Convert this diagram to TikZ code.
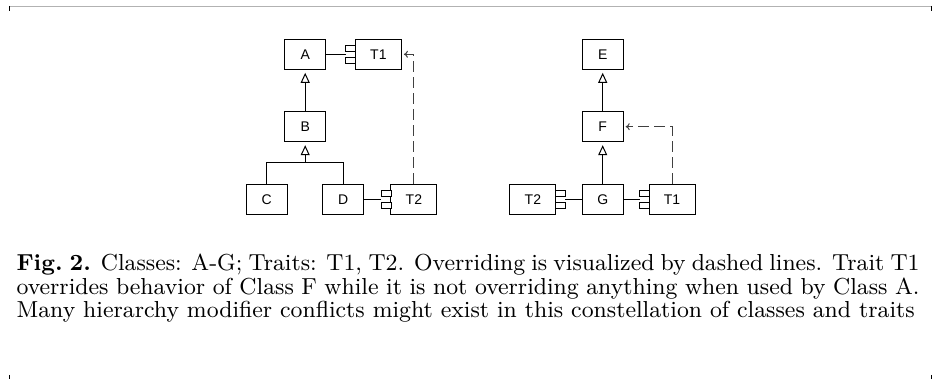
\documentclass[tikz,border=0pt]{standalone}
\usepackage{fontspec}
\newfontfamily\diagfont{Liberation Sans}
\usetikzlibrary{arrows.meta}
\begin{document}
\begin{tikzpicture}[x=1pt,y=-1pt,
  cls/.style={draw, line width=1pt, minimum width=41pt, minimum height=30pt, inner sep=0pt, font=\diagfont\fontsize{14}{14}\selectfont},
  trait/.style={cls, minimum width=46pt},
  port/.style={draw, fill=white, line width=1pt, minimum width=10pt, minimum height=5.5pt, inner sep=0pt},
  inh/.style={-{Triangle[open,length=10pt,width=9pt]}, line width=1pt, shorten >=3pt},
  ovr/.style={-{To[length=4pt,width=7pt]}, dash pattern=on 11pt off 5pt, line width=1pt, black!75, shorten >=2pt},
  conn/.style={line width=1pt}]
\useasboundingbox (0,0) rectangle (935,379);
% frame marks
\draw[gray!60, line width=1.3pt] (9.3,6.5) -- (931,6.5);
\draw[line width=0.8pt] (9.3,6) -- (9.3,11) (931,6) -- (931,11);
\draw[line width=0.8pt] (9.3,375) -- (9.3,379) (931,375) -- (931,379);
% left diagram
\node[cls] (A) at (305.2,54.3) {A};
\node[trait] (T1L) at (378.4,54.3) {T1};
\node[cls] (B) at (305.2,126.7) {B};
\node[cls] (C) at (266.7,199.3) {C};
\node[cls] (D) at (343.3,199.3) {D};
\node[trait] (T2L) at (413.9,199.3) {T2};
\coordinate (t1lj) at ([xshift=-9pt]T1L.west);
\coordinate (t2lj) at ([xshift=-9pt]T2L.west);
\draw[conn] (A.east) -- (t1lj);
\draw[conn] (D.east) -- (t2lj);
\node[port] (t1lpa) at ([xshift=-4pt,yshift=6pt]T1L.west) {};
\node[port] (t1lpb) at ([xshift=-4pt,yshift=-6pt]T1L.west) {};
\node[port] (t2lpa) at ([xshift=-4pt,yshift=6pt]T2L.west) {};
\node[port] (t2lpb) at ([xshift=-4pt,yshift=-6pt]T2L.west) {};
\draw[inh] (B.north) -- (A.south);
\coordinate (bj) at (305.2,162.7);
\draw[conn] (C.north) |- (bj) -| (D.north);
\draw[inh] (bj) -- (B.south);
\draw[ovr] (T2L.north) |- (T1L.east);
% right diagram
\node[cls] (E) at (602.7,54.3) {E};
\node[cls] (F) at (602.7,126.7) {F};
\node[cls] (G) at (602.7,199.3) {G};
\node[trait] (T2R) at (532.9,199.3) {T2};
\node[trait] (T1R) at (672,199.3) {T1};
\coordinate (t2rj) at ([xshift=9pt]T2R.east);
\coordinate (t1rj) at ([xshift=-9pt]T1R.west);
\draw[conn] (G.west) -- (t2rj);
\draw[conn] (G.east) -- (t1rj);
\node[port] (t2rpa) at ([xshift=4pt,yshift=6pt]T2R.east) {};
\node[port] (t2rpb) at ([xshift=4pt,yshift=-6pt]T2R.east) {};
\node[port] (t1rpa) at ([xshift=-4pt,yshift=6pt]T1R.west) {};
\node[port] (t1rpb) at ([xshift=-4pt,yshift=-6pt]T1R.west) {};
\draw[inh] (F.north) -- (E.south);
\draw[inh] (G.north) -- (F.south);
\draw[ovr] (T1R.north) |- (F.east);
% caption
\begin{scope}[shift={(16,253.5)}]
\node[anchor=north west, inner sep=0pt, scale=2.57, transform shape, text width=351.4pt, align=justify, font=\fontsize{9}{9.14}\selectfont] (cap) at (0,0) {\textbf{Fig.\ 2.} Classes: A-G; Traits: T1, T2. Overriding is visualized by dashed lines. Trait T1\linebreak overrides behavior of Class F while it is not overriding anything when used by Class A.\linebreak Many hierarchy modifier conflicts might exist in this constellation of classes and traits};
\end{scope}
\end{tikzpicture}
\end{document}
